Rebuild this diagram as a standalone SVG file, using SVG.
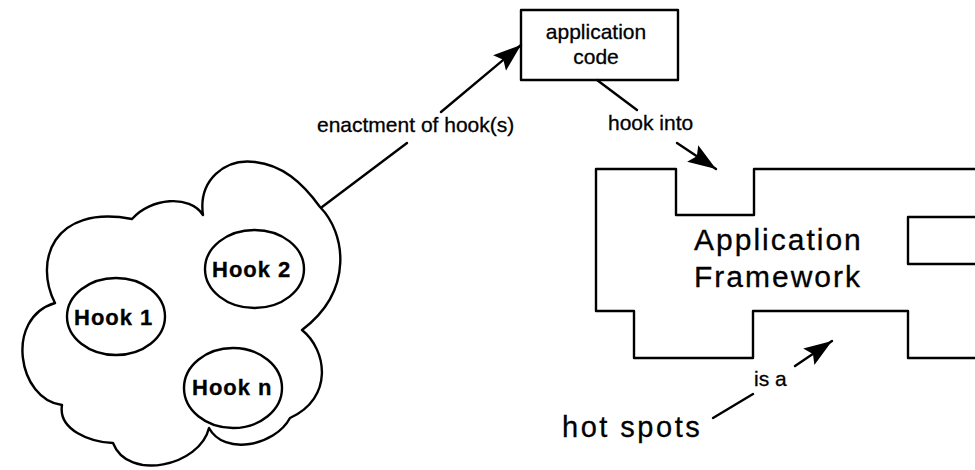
<svg xmlns="http://www.w3.org/2000/svg" width="975" height="470" viewBox="0 0 975 470">
<style>
.ln{fill:none;stroke:#000;stroke-width:2.4;stroke-linecap:round;stroke-linejoin:round}
.sh{fill:none;stroke:#000;stroke-width:2.4;stroke-linejoin:round}
.t{font-family:"Liberation Sans",Arial,sans-serif;fill:#000;stroke:#000;stroke-width:0.3}
.lbl{font-size:21px}
.hk{font-size:22px;font-weight:bold;letter-spacing:1px}
.big{font-size:30px;letter-spacing:2px}
</style>
<defs>
<marker id="ah" markerUnits="userSpaceOnUse" markerWidth="30" markerHeight="24" viewBox="0 0 30 24" refX="28" refY="12" orient="auto">
<path d="M0,2 L28,12 L0,22 L5,12 z" fill="#000"/>
</marker>
</defs>
<rect width="975" height="470" fill="#fff"/>
<g id="cloud">
<path class="sh" d="M132,219 C150,198 190,194 203,215 C198,180 225,158 255,162 C282,165 302,182 320,207 C345,232 355,290 302,330 C327,350 334,398 290,418 C275,446 224,456 209,428 C200,466 128,482 113,443 C90,442 58,430 62,405 C18,400 4,318 55,303 C34,262 52,204 132,219 z"/>
</g>
<g id="hook1">
<ellipse class="sh" cx="116" cy="316.5" rx="49" ry="38.5"/>
<text class="t hk" x="74" y="325">Hook 1</text>
</g>
<g id="hook2">
<ellipse class="sh" cx="254.5" cy="269" rx="49.5" ry="39"/>
<text class="t hk" x="212" y="277">Hook 2</text>
</g>
<g id="hookn">
<ellipse class="sh" cx="233" cy="388" rx="49" ry="40"/>
<text class="t hk" x="192" y="395">Hook n</text>
</g>
<g id="appcode">
<rect class="sh" x="521" y="10" width="157" height="70"/>
<text class="t lbl" x="596" y="39" text-anchor="middle">application</text>
<text class="t lbl" x="596" y="64" text-anchor="middle">code</text>
</g>
<g id="framework">
<path class="sh" d="M975,169 L754,169 L754,215 L676,215 L676,169 L596,169 L596,311 L634,311 L634,358 L753,358 L753,311 L908,311 L908,358 L975,358"/>
<path class="sh" d="M975,217 L908,217 L908,264 L975,264"/>
<text class="t big" x="694" y="250">Application</text>
<text class="t big" x="694" y="287">Framework</text>
</g>
<g id="hotspots">
<text class="t" x="562" y="437" font-size="29" letter-spacing="2.5">hot spots</text>
</g>
<g id="connectors">
<line class="ln" x1="322" y1="207" x2="407" y2="143"/>
<line class="ln" x1="441" y1="112" x2="521" y2="45" marker-end="url(#ah)"/>
<text class="t lbl" x="317" y="132">enactment of hook(s)</text>
<line class="ln" x1="597" y1="80" x2="637" y2="110"/>
<line class="ln" x1="677" y1="143" x2="716" y2="169" marker-end="url(#ah)"/>
<text class="t lbl" x="608" y="130">hook into</text>
<line class="ln" x1="713" y1="418" x2="753" y2="394"/>
<line class="ln" x1="795" y1="366" x2="832" y2="341" marker-end="url(#ah)"/>
<text class="t lbl" x="754" y="386">is a</text>
</g>
</svg>
